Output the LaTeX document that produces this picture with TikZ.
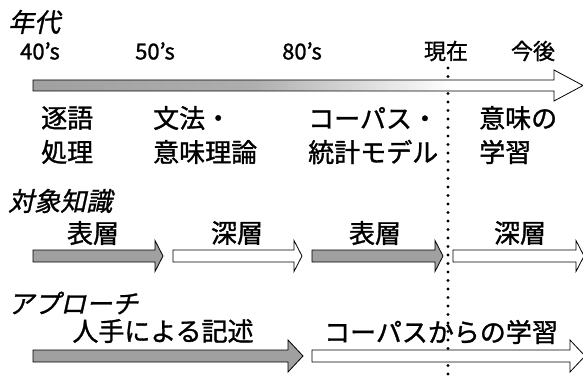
\documentclass[tikz,border=0pt]{standalone}
\usepackage{fontspec}
\setmainfont{Noto Sans CJK JP}[FakeBold=1.2]
\newfontfamily\jpit{Noto Sans CJK JP}[FakeSlant=0.22, FakeBold=1.0]
\definecolor{agray}{RGB}{160,160,160}
\pgfdeclarehorizontalshading{tlshade}{100bp}{color(0bp)=(agray); color(25bp)=(agray); color(45bp)=(agray!85); color(63bp)=(white); color(100bp)=(white)}
\newcommand\blkarrow[7]{%
  \path[#7] (#1,#3-#4) -- (#2-#6,#3-#4) -- (#2-#6,#3-#5) -- (#2,#3) -- (#2-#6,#3+#5) -- (#2-#6,#3+#4) -- (#1,#3+#4) -- cycle;}
\tikzset{
  outl/.style={draw=black, line width=0.8pt},
  grayarrow/.style={outl, fill=agray},
  whitearrow/.style={outl, fill=white},
  timearrow/.style={outl, shading=tlshade, shade},
  dotline/.style={line width=3.4pt, line cap=round, dash pattern=on 0pt off 8.5pt},
  heading/.style={inner sep=0pt, anchor=west, font=\jpit\fontsize{26}{30}\selectfont},
  era/.style={inner sep=0pt, font=\fontsize{22}{26}\selectfont},
  body/.style={inner sep=0pt, font=\fontsize{26}{30}\selectfont},
  bodyw/.style={body, anchor=west},
}
\begin{document}
\begin{tikzpicture}[x=1pt,y=-1pt]
\useasboundingbox (0,0) rectangle (583,377);
\fill[white] (0,0) rectangle (583,377);
% dotted "now" line
\coordinate (dtop) at (448,68);
\coordinate (dbot) at (448,380);
\draw[dotline] (dtop) -- (dbot);
% timeline
\node[heading] (hyear) at (8,22) {年代};
\node[era] (t40) at (40,51) {40's};
\node[era] (t50) at (155,51) {50's};
\node[era] (t80) at (302,51) {80's};
\node[era] (tnow) at (446,51) {現在};
\node[era] (tfut) at (533,51) {今後};
\blkarrow{33}{583}{85.5}{5.5}{15.5}{29}{timearrow}
\node[bodyw] (p1a) at (41,118) {逐語};
\node[bodyw] (p1b) at (41,152) {処理};
\node[bodyw] (p2a) at (153,118) {文法・};
\node[bodyw] (p2b) at (153,152) {意味理論};
\node[bodyw] (p3a) at (308,118) {コーパス・};
\node[bodyw] (p3b) at (308,152) {統計モデル};
\node[bodyw] (p4a) at (479,118) {意味の};
\node[bodyw] (p4b) at (479,152) {学習};
% target knowledge
\node[heading] (hknow) at (8,201) {対象知識};
\node[body] (k1) at (93,233) {表層};
\node[body] (k2) at (237,233) {深層};
\node[body] (k3) at (375,233) {表層};
\node[body] (k4) at (520,233) {深層};
\blkarrow{33}{163}{256}{6}{15.5}{8}{grayarrow}
\blkarrow{173}{302}{256}{6}{15.5}{8}{whitearrow}
\blkarrow{312}{443}{256}{6}{15.5}{8}{grayarrow}
\blkarrow{453}{584}{256}{6}{15.5}{8}{whitearrow}
% approach
\node[heading] (happ) at (8,303) {アプローチ};
\node[body] (a1) at (163,331) {人手による記述};
\node[body] (a2) at (441,332) {コーパスからの学習};
\blkarrow{33}{303}{356}{6}{16}{15}{grayarrow}
\blkarrow{312}{585}{356}{6}{16}{15}{whitearrow}
\end{tikzpicture}
\end{document}
